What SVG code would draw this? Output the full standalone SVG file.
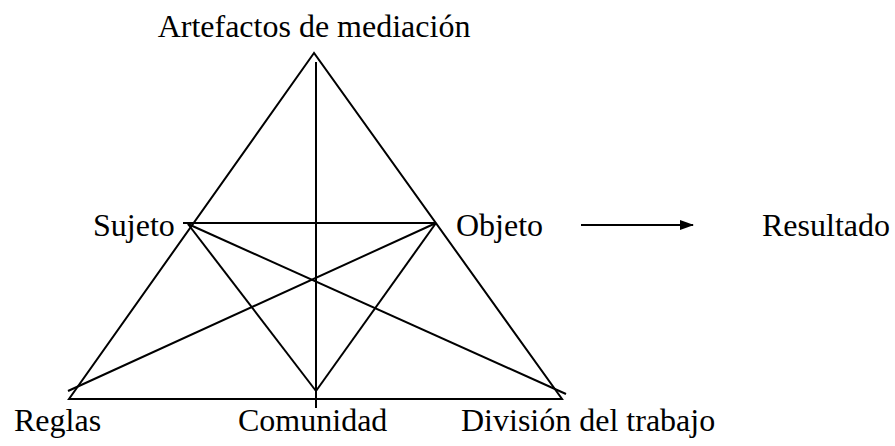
<svg xmlns="http://www.w3.org/2000/svg" width="895" height="446" viewBox="0 0 895 446">
<style>
.t{font-family:"Liberation Serif","Times New Roman",serif;font-size:32px;fill:#000}
.l{stroke:#000;stroke-width:2;fill:none}
</style>
<defs>
<marker id="ah" markerWidth="14" markerHeight="10" refX="13" refY="5" orient="auto" markerUnits="userSpaceOnUse">
<path d="M0,0 L14,5 L0,10 Z" fill="#000"/>
</marker>
</defs>
<rect width="895" height="446" fill="#fff"/>
<g id="connectors">
<path class="l" d="M314,53 L69,399 L562,399 Z"/>
<line class="l" x1="316" y1="62" x2="316" y2="408"/>
<line class="l" x1="183" y1="223" x2="436" y2="223"/>
<line class="l" x1="188" y1="224" x2="316" y2="391"/>
<line class="l" x1="436" y1="223" x2="316" y2="391"/>
<line class="l" x1="188" y1="224" x2="566" y2="394"/>
<line class="l" x1="436" y1="223" x2="68" y2="391"/>
<line class="l" x1="581" y1="225" x2="693" y2="225" marker-end="url(#ah)"/>
</g>
<g id="artefactos"><text class="t" x="314" y="37" text-anchor="middle">Artefactos de mediación</text></g>
<g id="sujeto"><text class="t" x="93" y="236">Sujeto</text></g>
<g id="objeto"><text class="t" x="456" y="236">Objeto</text></g>
<g id="resultado"><text class="t" x="762" y="236">Resultado</text></g>
<g id="reglas"><text class="t" x="14" y="431">Reglas</text></g>
<g id="comunidad"><text class="t" x="238" y="431">Comunidad</text></g>
<g id="division"><text class="t" x="461" y="431">División del trabajo</text></g>
</svg>
